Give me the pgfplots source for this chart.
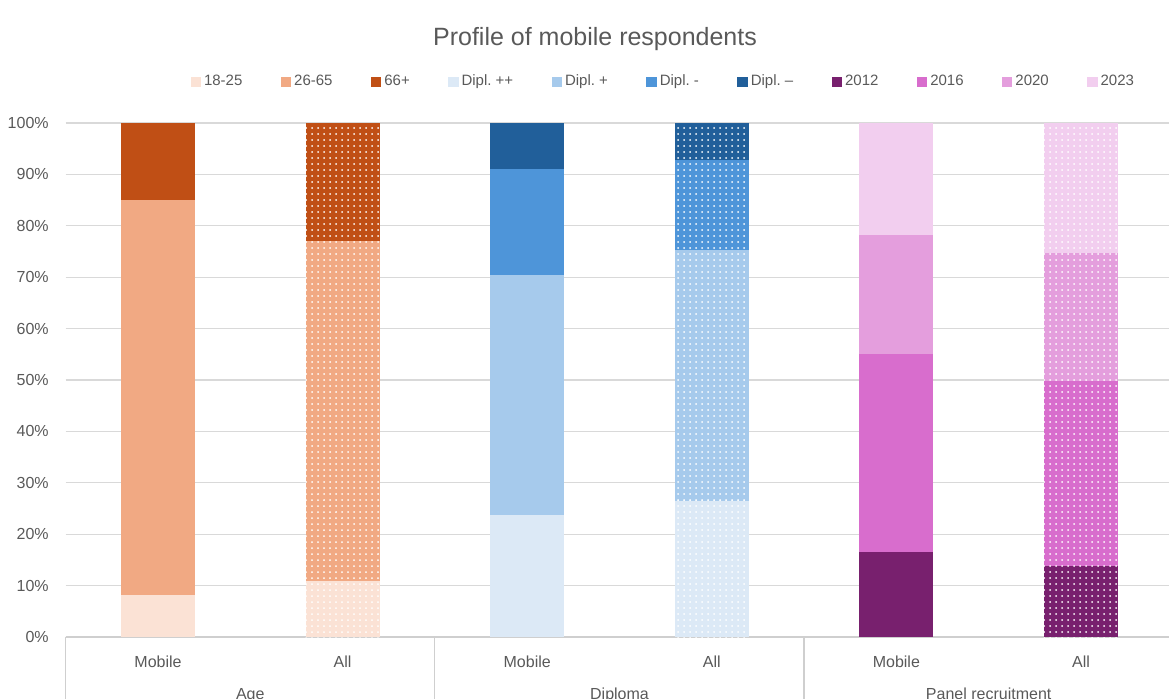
\documentclass[border=0pt]{standalone}
\usepackage{fontspec}
\setmainfont{Liberation Sans}
\usepackage{pgfplots}
\pgfplotsset{compat=1.18}
\usepackage{pgfplotstable}
\usetikzlibrary{patterns.meta}

\definecolor{txtgray}{HTML}{595959}
\definecolor{gridgray}{HTML}{D9D9D9}
\definecolor{axgray}{HTML}{CFCFCF}
\definecolor{cA}{HTML}{FBE2D5}
\definecolor{cB}{HTML}{F1A983}
\definecolor{cC}{HTML}{C04F15}
\definecolor{cD}{HTML}{DCE9F6}
\definecolor{cE}{HTML}{A6CAEC}
\definecolor{cF}{HTML}{4E95D9}
\definecolor{cG}{HTML}{215F9A}
\definecolor{cH}{HTML}{78206E}
\definecolor{cI}{HTML}{D86DCD}
\definecolor{cJ}{HTML}{E49EDD}
\definecolor{cK}{HTML}{F2CEEF}

% share of each group (%), Mobile respondents
\pgfplotstableread{
x  a1825 a2665 a66  d1   d2   d3   d4  p12  p16  p20  p23
0  8.2   76.8  15.0 0    0    0    0   0    0    0    0
1  0     0     0    0    0    0    0   0    0    0    0
2  0     0     0    23.7 46.7 20.7 8.9 0    0    0    0
3  0     0     0    0    0    0    0   0    0    0    0
4  0     0     0    0    0    0    0   16.5 38.6 23.1 21.8
5  0     0     0    0    0    0    0   0    0    0    0
}\mobile
% share of each group (%), all respondents
\pgfplotstableread{
x  a1825 a2665 a66  d1   d2   d3   d4  p12  p16  p20  p23
0  0     0     0    0    0    0    0   0    0    0    0
1  10.9  66.1  23.0 0    0    0    0   0    0    0    0
2  0     0     0    0    0    0    0   0    0    0    0
3  0     0     0    26.5 48.8 17.5 7.2 0    0    0    0
4  0     0     0    0    0    0    0   0    0    0    0
5  0     0     0    0    0    0    0   13.8 36.0 24.9 25.3
}\alltab

\pgfplotsset{
  dotted bar/.style={postaction={pattern={Dots[distance=3pt,radius=0.5pt]}, pattern color=white}},
}
\tikzset{lbl/.style={anchor=base, text=txtgray, font=\fontsize{8}{9}\selectfont, inner sep=0pt}}

\begin{document}
\begin{tikzpicture}
\useasboundingbox (0,0) rectangle (584.5pt,349pt);
\clip (0,0) rectangle (584.5pt,349pt);
\begin{axis}[
  at={(32.85pt,30.5pt)}, anchor=south west,
  scale only axis, width=553.8pt, height=257pt,
  ybar stacked, bar width=37pt,
  xmin=-0.5, xmax=5.5, ymin=0, ymax=100,
  xtick=\empty,
  ytick={0,10,...,100},
  yticklabel={\pgfmathprintnumber{\tick}\%},
  /pgf/number format/assume math mode=true,
  yticklabel style={xshift=-5pt},
  tick label style={font=\fontsize{8}{9}\selectfont, text=txtgray},
  ytick style={draw=none},
  axis x line*=bottom, axis y line*=left,
  y axis line style={draw=none},
  x axis line style={draw=axgray, line width=0.6pt, -},
  ymajorgrids, grid style={draw=gridgray, line width=0.6pt},
  clip=false,
  legend image code/.code={\fill[#1] (0pt,-2.6pt) rectangle (5.2pt,2.6pt);},
  legend style={draw=none, fill=none, at={(0.540,1.0798)}, anchor=center,
    legend columns=-1, font=\fontsize{7.5}{9}\selectfont, text=txtgray,
    /tikz/every even column/.append style={column sep=17.7pt},
    nodes={inner sep=1.5pt}},
]
\addplot[fill=cA, draw=none] table[x=x,y=a1825]{\mobile}; \addlegendentry{18-25}
\addplot[fill=cA, draw=none, dotted bar, forget plot] table[x=x,y=a1825]{\alltab};
\addplot[fill=cB, draw=none] table[x=x,y=a2665]{\mobile}; \addlegendentry{26-65}
\addplot[fill=cB, draw=none, dotted bar, forget plot] table[x=x,y=a2665]{\alltab};
\addplot[fill=cC, draw=none] table[x=x,y=a66]{\mobile}; \addlegendentry{66+}
\addplot[fill=cC, draw=none, dotted bar, forget plot] table[x=x,y=a66]{\alltab};
\addplot[fill=cD, draw=none] table[x=x,y=d1]{\mobile}; \addlegendentry{Dipl.\ ++}
\addplot[fill=cD, draw=none, dotted bar, forget plot] table[x=x,y=d1]{\alltab};
\addplot[fill=cE, draw=none] table[x=x,y=d2]{\mobile}; \addlegendentry{Dipl.\ +}
\addplot[fill=cE, draw=none, dotted bar, forget plot] table[x=x,y=d2]{\alltab};
\addplot[fill=cF, draw=none] table[x=x,y=d3]{\mobile}; \addlegendentry{Dipl.\ -}
\addplot[fill=cF, draw=none, dotted bar, forget plot] table[x=x,y=d3]{\alltab};
\addplot[fill=cG, draw=none] table[x=x,y=d4]{\mobile}; \addlegendentry{Dipl.\ --}
\addplot[fill=cG, draw=none, dotted bar, forget plot] table[x=x,y=d4]{\alltab};
\addplot[fill=cH, draw=none] table[x=x,y=p12]{\mobile}; \addlegendentry{2012}
\addplot[fill=cH, draw=none, dotted bar, forget plot] table[x=x,y=p12]{\alltab};
\addplot[fill=cI, draw=none] table[x=x,y=p16]{\mobile}; \addlegendentry{2016}
\addplot[fill=cI, draw=none, dotted bar, forget plot] table[x=x,y=p16]{\alltab};
\addplot[fill=cJ, draw=none] table[x=x,y=p20]{\mobile}; \addlegendentry{2020}
\addplot[fill=cJ, draw=none, dotted bar, forget plot] table[x=x,y=p20]{\alltab};
\addplot[fill=cK, draw=none] table[x=x,y=p23]{\mobile}; \addlegendentry{2023}
\addplot[fill=cK, draw=none, dotted bar, forget plot] table[x=x,y=p23]{\alltab};

\draw[axgray, line width=0.6pt] (axis cs:-0.5,0) -- ([yshift=-40pt]axis cs:-0.5,0);
\draw[axgray, line width=0.6pt] (axis cs:1.5,0) -- ([yshift=-40pt]axis cs:1.5,0);
\draw[axgray, line width=0.6pt] (axis cs:3.5,0) -- ([yshift=-40pt]axis cs:3.5,0);
\draw[axgray, line width=0.6pt] (axis cs:5.5,0) -- ([yshift=-40pt]axis cs:5.5,0);
\node[lbl] at ([yshift=-15pt]axis cs:0,0) {Mobile};
\node[lbl] at ([yshift=-15pt]axis cs:1,0) {All};
\node[lbl] at ([yshift=-15pt]axis cs:2,0) {Mobile};
\node[lbl] at ([yshift=-15pt]axis cs:3,0) {All};
\node[lbl] at ([yshift=-15pt]axis cs:4,0) {Mobile};
\node[lbl] at ([yshift=-15pt]axis cs:5,0) {All};
\node[lbl] at ([yshift=-31.3pt]axis cs:0.5,0) {Age};
\node[lbl] at ([yshift=-31.3pt]axis cs:2.5,0) {Diploma};
\node[lbl] at ([yshift=-31.3pt]axis cs:4.5,0) {Panel recruitment};
\end{axis}
\node[text=txtgray, font=\fontsize{12.5}{14}\selectfont, inner sep=0pt]
  at (297.5pt,329.5pt) {Profile of mobile respondents};
\end{tikzpicture}
\end{document}
